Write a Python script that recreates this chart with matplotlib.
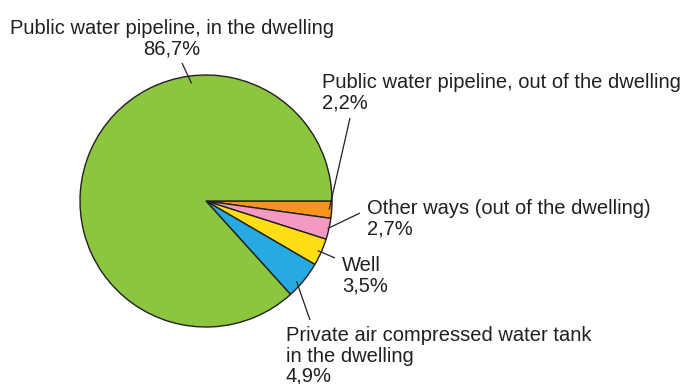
import numpy as np
import matplotlib
matplotlib.use("Agg")
import matplotlib.pyplot as plt

plt.rcParams['font.family'] = ['Liberation Sans', 'DejaVu Sans']

# data, clockwise from 3 o'clock
labels = ["Public water pipeline, out of the dwelling",
          "Other ways (out of the dwelling)",
          "Well",
          "Private air compressed water tank\nin the dwelling",
          "Public water pipeline, in the dwelling"]
shares = [2.2, 2.7, 3.5, 4.9, 86.7]
share_text = ["2,2%", "2,7%", "3,5%", "4,9%", "86,7%"]
colors = ["#F7941E", "#F49AC2", "#FFDD17", "#27AAE1", "#8CC63F"]

W, H = 681, 384
fig = plt.figure(figsize=(W / 100, H / 100), dpi=100)
ax = fig.add_axes([0, 0, 1, 1])

cx, cy, R = 206, 201, 126   # pixel coords, y down


def py(y):
    return H - y


wedges, _ = ax.pie(shares, colors=colors, startangle=0, counterclock=False,
                   center=(cx, py(cy)), radius=R,
                   wedgeprops=dict(edgecolor="#231F20", linewidth=1.0))
ax.set_xlim(0, W)
ax.set_ylim(0, H)
ax.set_aspect("auto")
ax.axis("off")

# label placement: text x, block centre y, ha, leader start near text, leader radius fraction, angle shift
fs = 14.5
tc = "#231F20"
layout = [
    (322, 93, "left", (350, 118), 0.98, 0.0),
    (367, 219, "left", (360, 213), 0.99, 0.0),
    (342, 276, "left", (335, 258), 0.97, 0.0),
    (286, 356, "left", (310, 320), 0.96, -2.5),
    (172, 38.5, "center", (182, 63), 0.94, 0.0),
]

for w, lab, pct, (tx, ty, ha, (lx, ly), rf, dang) in zip(wedges, labels, share_text, layout):
    mid = np.deg2rad((w.theta1 + w.theta2) / 2 + dang)
    if w.theta2 - w.theta1 > 180:
        mid = np.deg2rad(97.0)
    ex = cx + rf * R * np.cos(mid)
    ey = cy - rf * R * np.sin(mid)
    ax.plot([lx, ex], [py(ly), py(ey)], color=tc, lw=0.9, solid_capstyle="butt", zorder=5)
    ax.text(tx, py(ty), lab + "\n" + pct, ha=ha, va="center",
            multialignment=ha, fontsize=fs, color=tc, linespacing=1.1)

fig.savefig("out.png", dpi=100, facecolor="white")
